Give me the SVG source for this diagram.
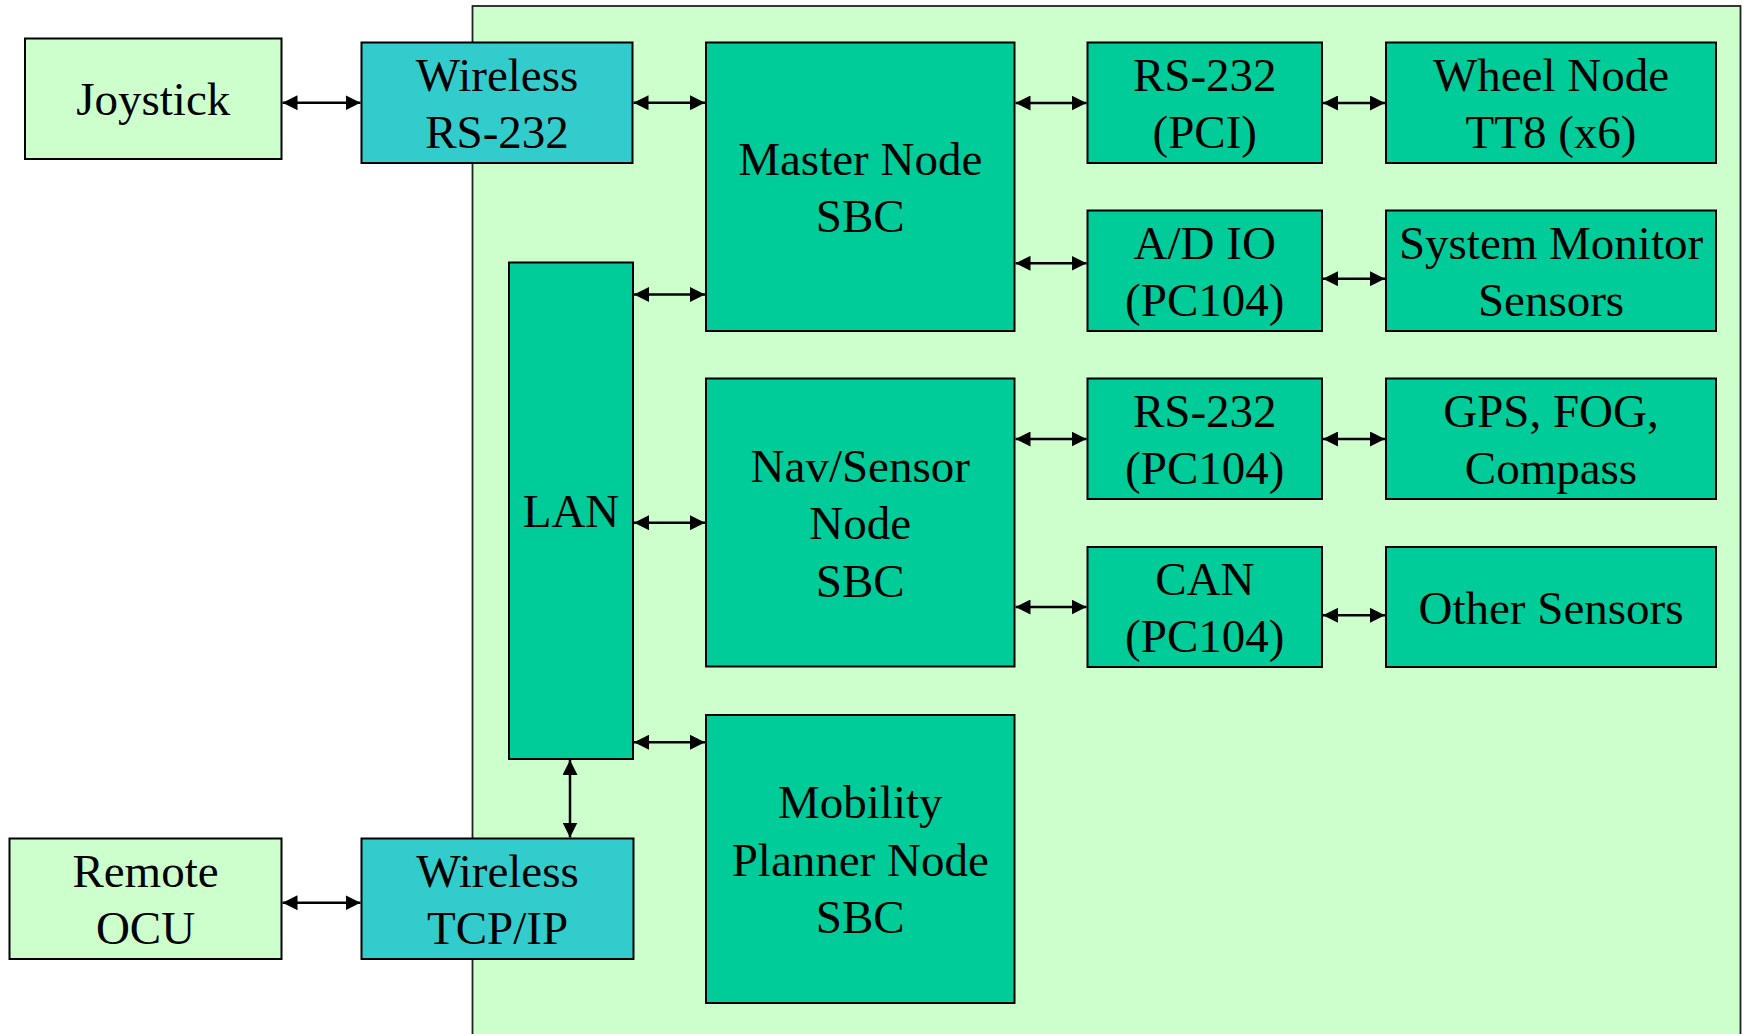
<svg xmlns="http://www.w3.org/2000/svg" width="1744" height="1034" viewBox="0 0 1744 1034">
<style>
.lg{fill:#CCFFCC;stroke:#000;stroke-width:2}
.tg{fill:#00CC99;stroke:#000;stroke-width:2}
.cy{fill:#33CCCC;stroke:#000;stroke-width:2}
text{font-family:"Liberation Serif","Times New Roman",serif;font-size:47px;fill:#000;text-anchor:middle}
.c line{stroke:#000;stroke-width:2.5;marker-start:url(#ah);marker-end:url(#ah)}
</style>
<defs>
<marker id="ah" markerUnits="userSpaceOnUse" markerWidth="15" markerHeight="15" viewBox="0 0 15 15" refX="15" refY="7.5" orient="auto-start-reverse">
<path d="M0,0 L15,7.5 L0,15 z" fill="#000"/>
</marker>
</defs>
<rect width="1744" height="1034" fill="#fff"/>
<g id="container"><rect x="472.5" y="6" width="1268" height="1040" fill="#CCFFCC" stroke="#222" stroke-width="1.8"/></g>

<g id="joystick"><rect class="lg" x="25" y="38.5" width="256.5" height="120.5"/><text x="153.25" y="115.25">Joystick</text></g>
<g id="wireless-rs232"><rect class="cy" x="361.5" y="42.5" width="271" height="120.5"/><text x="497" y="90.5">Wireless</text><text x="497" y="148">RS-232</text></g>
<g id="master"><rect class="tg" x="706" y="42.5" width="308.5" height="288.5"/><text x="860.25" y="174.5">Master Node</text><text x="860.25" y="232">SBC</text></g>
<g id="rs232-pci"><rect class="tg" x="1087.5" y="42.5" width="234.5" height="120.5"/><text x="1204.75" y="90.5">RS-232</text><text x="1204.75" y="148">(PCI)</text></g>
<g id="wheel"><rect class="tg" x="1386" y="42.5" width="330" height="120.5"/><text x="1551" y="90.5">Wheel Node</text><text x="1551" y="148">TT8 (x6)</text></g>
<g id="adio"><rect class="tg" x="1087.5" y="210.5" width="234.5" height="120.5"/><text x="1204.75" y="258.5">A/D IO</text><text x="1204.75" y="316">(PC104)</text></g>
<g id="sysmon"><rect class="tg" x="1386" y="210.5" width="330" height="120.5"/><text x="1551" y="258.5">System Monitor</text><text x="1551" y="316">Sensors</text></g>
<g id="lan"><rect class="tg" x="509" y="262.5" width="124" height="496.5"/><text x="571" y="527.25">LAN</text></g>
<g id="nav"><rect class="tg" x="706" y="378.5" width="308.5" height="288"/><text x="860.25" y="481.5">Nav/Sensor</text><text x="860.25" y="539">Node</text><text x="860.25" y="596.5">SBC</text></g>
<g id="rs232-pc104"><rect class="tg" x="1087.5" y="378.5" width="234.5" height="120.5"/><text x="1204.75" y="426.5">RS-232</text><text x="1204.75" y="484">(PC104)</text></g>
<g id="gps"><rect class="tg" x="1386" y="378.5" width="330" height="120.5"/><text x="1551" y="426.5">GPS, FOG,</text><text x="1551" y="484">Compass</text></g>
<g id="can"><rect class="tg" x="1087.5" y="547" width="234.5" height="120"/><text x="1204.75" y="594.75">CAN</text><text x="1204.75" y="652.25">(PC104)</text></g>
<g id="other"><rect class="tg" x="1386" y="547" width="330" height="120"/><text x="1551" y="623.5">Other Sensors</text></g>
<g id="mobility"><rect class="tg" x="706" y="715" width="308.5" height="288"/><text x="860.25" y="818">Mobility</text><text x="860.25" y="875.5">Planner Node</text><text x="860.25" y="933">SBC</text></g>
<g id="remote-ocu"><rect class="lg" x="9.5" y="838.5" width="272" height="120.5"/><text x="145.5" y="886.5">Remote</text><text x="145.5" y="944">OCU</text></g>
<g id="wireless-tcpip"><rect class="cy" x="361.5" y="838.5" width="272" height="120.5"/><text x="497.5" y="886.5">Wireless</text><text x="497.5" y="944">TCP/IP</text></g>

<g id="connectors" class="c">
<line x1="282.5" y1="102.7" x2="360.5" y2="102.7"/>
<line x1="633.5" y1="102.7" x2="705" y2="102.7"/>
<line x1="634" y1="294.5" x2="705" y2="294.5"/>
<line x1="1015.5" y1="103" x2="1086.5" y2="103"/>
<line x1="1323" y1="103" x2="1385" y2="103"/>
<line x1="1015.5" y1="263.3" x2="1086.5" y2="263.3"/>
<line x1="1323" y1="278.7" x2="1385" y2="278.7"/>
<line x1="634" y1="522.7" x2="705" y2="522.7"/>
<line x1="1015.5" y1="439" x2="1086.5" y2="439"/>
<line x1="1323" y1="439" x2="1385" y2="439"/>
<line x1="1015.5" y1="607" x2="1086.5" y2="607"/>
<line x1="1323" y1="615.3" x2="1385" y2="615.3"/>
<line x1="634" y1="742.3" x2="705" y2="742.3"/>
<line x1="570" y1="760" x2="570" y2="837.5"/>
<line x1="282.5" y1="902.7" x2="360.5" y2="902.7"/>
</g>
</svg>
